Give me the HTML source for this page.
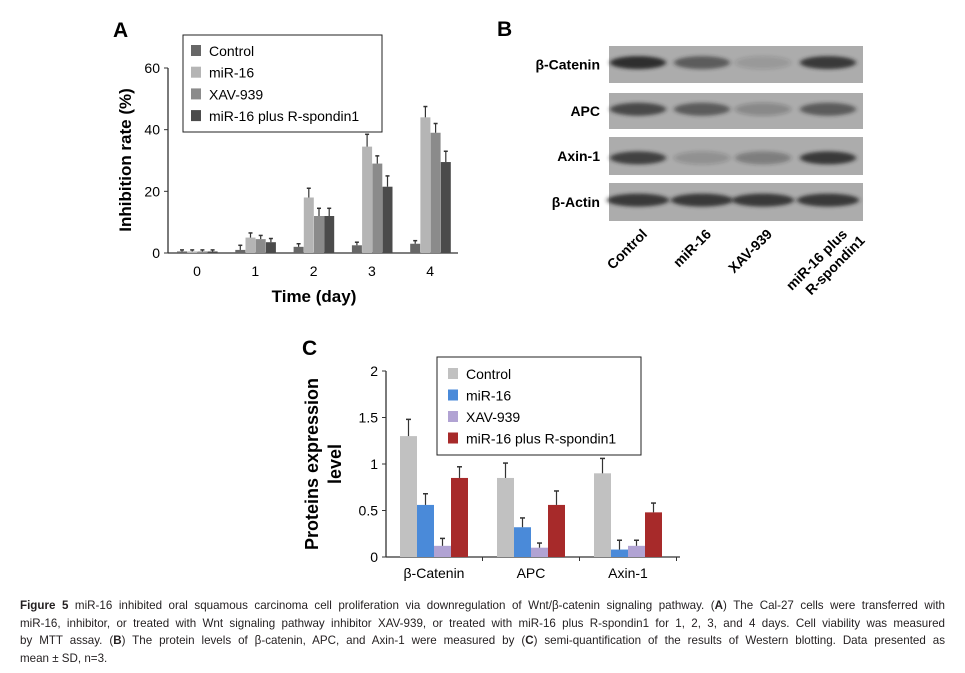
<!DOCTYPE html>
<html><head><meta charset="utf-8"><style>
body{margin:0;width:965px;height:673px;background:#fff;overflow:hidden;font-family:"Liberation Sans",sans-serif}
#cap{position:absolute;left:20px;top:597px;width:925px;font-size:11.6px;line-height:17.7px;color:#231f20}
#cap div{text-align:justify;text-align-last:justify;white-space:nowrap;overflow:visible}
#cap div.last{text-align-last:left}
</style></head><body>
<svg id="fig" width="965" height="600" style="position:absolute;left:0;top:0" font-family="Liberation Sans, sans-serif"></svg>
<div id="cap">
<div style="white-space:normal"><b>Figure 5</b> miR-16 inhibited oral squamous carcinoma cell proliferation via downregulation of Wnt/β-catenin signaling pathway. (<b>A</b>) The Cal-27 cells were transferred with</div>
<div style="white-space:normal">miR-16, inhibitor, or treated with Wnt signaling pathway inhibitor XAV-939, or treated with miR-16 plus R-spondin1 for 1, 2, 3, and 4 days. Cell viability was measured</div>
<div style="white-space:normal">by MTT assay. (<b>B</b>) The protein levels of β-catenin, APC, and Axin-1 were measured by (<b>C</b>) semi-quantification of the results of Western blotting. Data presented as</div>
<div class="last">mean ± SD, n=3.</div>
</div>
<script>
const NS="http://www.w3.org/2000/svg";
const svg=document.getElementById('fig');
// Chart A data
const aDays=['0','1','2','3','4'];
const aSeries=['Control','miR-16','XAV-939','miR-16 plus R-spondin1'];
const aControl=[0.5,1,2,2.5,3];
const aMiR=[0.5,5,18,34.5,44];
const aXAV=[0.5,4.5,12,29,39];
const aRsp=[0.5,3.5,12,21.5,29.5];
const aErrControl=[0.5,1.5,1,1,1];
const aErrMiR=[0.5,1.5,3,4,3.5];
const aErrXAV=[0.5,1.2,2.5,2.5,3];
const aErrRsp=[0.5,1.2,2.5,3.5,3.5];
const aTicks=[0,20,40,60];
// Chart C data
const cCats=['β-Catenin','APC','Axin-1'];
const cSeries=['Control','miR-16','XAV-939','miR-16 plus R-spondin1'];
const cControl=[1.3,0.85,0.9];
const cMiR=[0.56,0.32,0.08];
const cXAV=[0.12,0.1,0.12];
const cRsp=[0.85,0.56,0.48];
const cErrControl=[0.18,0.16,0.16];
const cErrMiR=[0.12,0.1,0.1];
const cErrXAV=[0.08,0.05,0.06];
const cErrRsp=[0.12,0.15,0.1];
const cTicks=[0,0.5,1,1.5,2];
const cTickLabels=['0','0.5','1','1.5','2'];
// Blot
const bRows=['β-Catenin','APC','Axin-1','β-Actin'];
const bLanes=['Control','miR-16','XAV-939','miR-16 plus|R-spondin1'];
const bIntensity=[[0.95,0.6,0.15,0.85],[0.75,0.6,0.25,0.6],[0.8,0.2,0.35,0.85],[0.85,0.85,0.85,0.85]];

function el(tag,attrs,parent,text){const e=document.createElementNS(NS,tag);for(const k in attrs)e.setAttribute(k,attrs[k]);if(text!==undefined)e.textContent=text;(parent||svg).appendChild(e);return e;}

// ---------- Panel A ----------
const ax0=168,ay0=253,ayTop=68,aMax=60;
const aY=v=>ay0-(v/aMax)*(ay0-ayTop);
const aX=i=>197+i*58.3;
let t=el('text',{x:113,y:37,'font-size':21,'font-weight':'bold'});t.textContent='A';


let l=el('line',{x1:ax0,y1:ayTop,x2:ax0,y2:ay0,stroke:'#333','stroke-width':1.3});

l=el('line',{x1:ax0,y1:ay0,x2:458,y2:ay0,stroke:'#333','stroke-width':1.3});

aTicks.forEach(v=>{
  el('line',{x1:ax0-4,y1:aY(v),x2:ax0,y2:aY(v),stroke:'#333'});
  const tt=el('text',{x:ax0-8,y:aY(v)+5,'font-size':14,'text-anchor':'end'},svg,String(v));
  
});
aDays.forEach((d,i)=>{
  const tt=el('text',{x:aX(i),y:276,'font-size':14,'text-anchor':'middle'},svg,d);
  
});
const aCols=['#676767','#b5b5b5','#8b8b8b','#4b4b4b'];
const aVals=[aControl,aMiR,aXAV,aRsp],aErrs=[aErrControl,aErrMiR,aErrXAV,aErrRsp];
aVals.forEach((arr,s)=>arr.forEach((v,i)=>{
  const x=aX(i)-20+s*10.2;
  const r=el('rect',{x:x,y:aY(v),width:10,height:ay0-aY(v),fill:aCols[s]});
  
  const ey=aY(v+aErrs[s][i]);
  el('line',{x1:x+5,y1:aY(v),x2:x+5,y2:ey,stroke:'#333','stroke-width':1.2});
  el('line',{x1:x+3,y1:ey,x2:x+7,y2:ey,stroke:'#333','stroke-width':1.5});
}));
t=el('text',{x:0,y:0,'font-size':17,'font-weight':'bold','text-anchor':'middle',transform:'translate(131,160) rotate(-90)'},svg,'Inhibition rate (%)');

t=el('text',{x:314,y:302,'font-size':17,'font-weight':'bold','text-anchor':'middle'},svg,'Time (day)');

let g=el('g',{});
el('rect',{x:183,y:35,width:199,height:97,fill:'#fff',stroke:'#222'},g);
aSeries.forEach((s,i)=>{const y=51+i*21.7;
  el('rect',{x:191,y:y-6,width:10,height:11,fill:aCols[i]},g);
  el('text',{x:209,y:y+5,'font-size':14},g,s);});

// ---------- Panel B ----------
t=el('text',{x:497,y:36,'font-size':21,'font-weight':'bold'},svg,'B');

const bRowTop=[46,93,137,183],bRowH=[37,36,38,38];
const laneX=[638,702,763,828];
const defs=el('defs',{});
const flt=el('filter',{id:'blur',x:'-20%',y:'-50%',width:'140%',height:'200%'},defs);
el('feGaussianBlur',{stdDeviation:'2.5 1.8'},flt);
bRows.forEach((name,r)=>{
  const gr=el('g',{});
  el('rect',{x:609,y:bRowTop[r],width:254,height:bRowH[r],fill:'#acacac'},gr);
  const cy=bRowTop[r]+bRowH[r]*(r==2?0.55:0.45);
  laneX.forEach((lx,i)=>{const a=bIntensity[r][i];
    el('ellipse',{cx:lx,cy:cy,rx:r==3?31:28,ry:6.5,fill:'#262626','fill-opacity':a,filter:'url(#blur)'},gr);});
  el('text',{x:600,y:bRowTop[r]+bRowH[r]/2+5,'font-size':14,'font-weight':'bold','text-anchor':'end'},gr,name);
});
bLanes.forEach((n,i)=>{
  const parts=n.split('|');
  const tx=el('text',{'font-size':14,'font-weight':'bold','text-anchor':'end',transform:`translate(${laneX[i]+10+(parts.length>1?10:0)},235) rotate(-45)`});
  
  parts.forEach((p,k)=>el('tspan',{x:k*8,dy:k?17:0},tx,p));
});

// ---------- Panel C ----------
const cx0=386,cy0=557,cyTop=371,cMax=2;
const cY=v=>cy0-(v/cMax)*(cy0-cyTop);
const cX=i=>434+i*97;
t=el('text',{x:302,y:355,'font-size':21,'font-weight':'bold'},svg,'C');

l=el('line',{x1:cx0,y1:cyTop,x2:cx0,y2:cy0,stroke:'#333','stroke-width':1.3});

l=el('line',{x1:cx0,y1:cy0,x2:680,y2:cy0,stroke:'#333','stroke-width':1.3});

cTicks.forEach((v,i)=>{
  el('line',{x1:cx0-4,y1:cY(v),x2:cx0,y2:cY(v),stroke:'#333'});
  const tt=el('text',{x:cx0-8,y:cY(v)+5,'font-size':14,'text-anchor':'end'},svg,cTickLabels[i]);
  
});
[0,1,2].forEach(i=>el('line',{x1:cX(i)+48.5,y1:cy0,x2:cX(i)+48.5,y2:cy0+4,stroke:'#333'}));
cCats.forEach((c,i)=>{
  const tt=el('text',{x:cX(i),y:578,'font-size':14,'text-anchor':'middle'},svg,c);
  
});
const cCols=['#c1c1c1','#4a8ad9','#b1a3d3','#a72a2a'];
const cVals=[cControl,cMiR,cXAV,cRsp],cErrs=[cErrControl,cErrMiR,cErrXAV,cErrRsp];
cVals.forEach((arr,s)=>arr.forEach((v,i)=>{
  const x=cX(i)-34+s*17;
  const r=el('rect',{x:x,y:cY(v),width:17,height:cy0-cY(v),fill:cCols[s]});
  
  const ey=cY(v+cErrs[s][i]);
  el('line',{x1:x+8.5,y1:cY(v),x2:x+8.5,y2:ey,stroke:'#333','stroke-width':1.2});
  el('line',{x1:x+6,y1:ey,x2:x+11,y2:ey,stroke:'#333','stroke-width':1.5});
}));
t=el('text',{'font-size':18,'font-weight':'bold','text-anchor':'middle',transform:'translate(318,464) rotate(-90)'},svg,'Proteins expression');

t=el('text',{'font-size':18,'font-weight':'bold','text-anchor':'middle',transform:'translate(341,464) rotate(-90)'},svg,'level');

g=el('g',{});
el('rect',{x:437,y:357,width:204,height:98,fill:'#fff',stroke:'#222'},g);
cSeries.forEach((s,i)=>{const y=374+i*21.5;
  el('rect',{x:448,y:y-6,width:10,height:11,fill:cCols[i]},g);
  el('text',{x:466,y:y+5,'font-size':14},g,s);});
</script>
</body></html>
